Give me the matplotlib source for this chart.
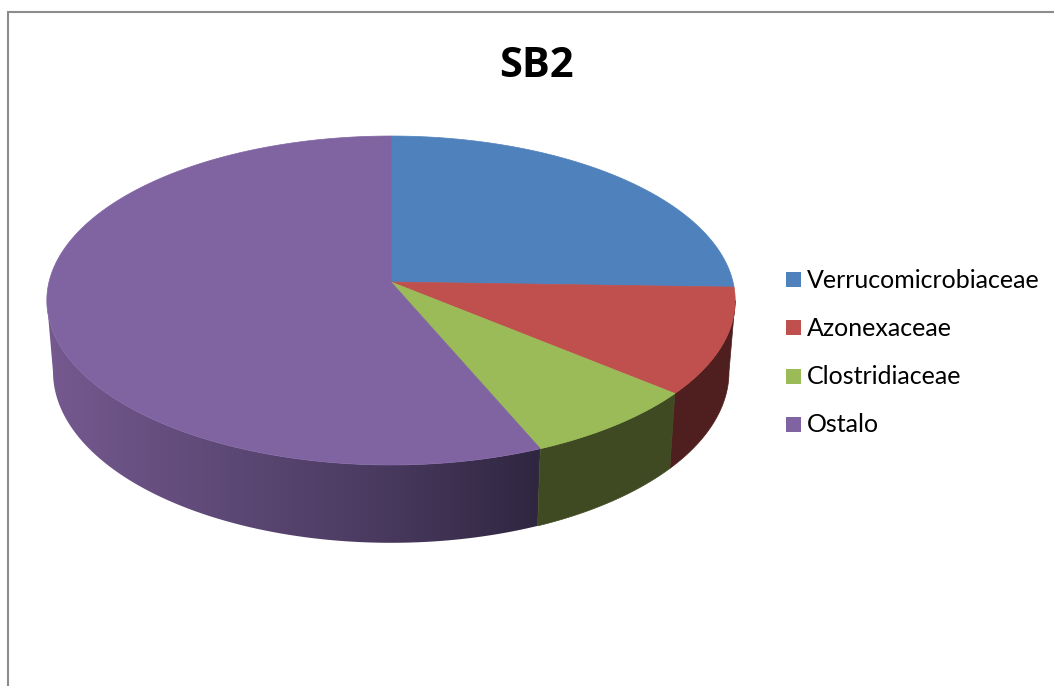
import numpy as np
import matplotlib
matplotlib.use('Agg')
import matplotlib.pyplot as plt
from matplotlib.patches import Polygon, Rectangle
from matplotlib.colors import LinearSegmentedColormap

titre = "SB2"
familles = ["Verrucomicrobiaceae", "Azonexaceae", "Clostridiaceae", "Ostalo"]
valeurs = [25.5, 10.5, 7.6, 56.4]
couleurs = ["#4f81bd", "#c0504d", "#9bbb59", "#8064a2"]
couleurs_bord = ["#27405e", "#4e1f1e", "#404a22", None]
degrade_ostalo = ["#75598f", "#5f4a78", "#4a3a60", "#2f2640"]

# pie geometry, in pixels of the picture
CX, CY = 391, 282
RX, RY = 342, 162.4
K = 0.1125


def dessus(theta):
    u, v = np.sin(theta), np.cos(theta)
    return CX + RX * u / (1 + K * v), CY - RY * v / (1 + K * v)


def dessous(theta):
    x, y = dessus(theta)
    return CX + (x - CX) * 0.982, CY + 70.5 + (y - CY) * 1.04


def arc(f, a, b):
    t = np.linspace(a, b, 200)
    x, y = f(t)
    return np.column_stack([x, y])


fig = plt.figure(figsize=(10.54, 6.86), dpi=100)
ax = fig.add_axes([0, 0, 1, 1])

bornes = np.concatenate([[0], np.cumsum(valeurs)]) / sum(valeurs) * 2 * np.pi

# only the front of the side wall shows, between the two silhouette angles
vue_min = np.arccos(-K)
vue_max = 2 * np.pi - vue_min

# side wall
for i in range(len(valeurs)):
    a, b = max(bornes[i], vue_min), min(bornes[i + 1], vue_max)
    if a >= b:
        continue
    pts = np.vstack([arc(dessus, a, b), arc(dessous, a, b)[::-1]])
    if couleurs_bord[i] is not None:
        ax.add_patch(Polygon(pts, closed=True, fc=couleurs_bord[i], ec=couleurs_bord[i], lw=0.5))
    else:
        poly = Polygon(pts, closed=True, fc='none', ec='none')
        ax.add_patch(poly)
        cmap = LinearSegmentedColormap.from_list('ostalo', degrade_ostalo)
        grad = np.linspace(0, 1, 256).reshape(1, -1)
        im = ax.imshow(grad, cmap=cmap, extent=[48, 540, 560, 280], aspect='auto')
        im.set_clip_path(poly)

# top face
for i in range(len(valeurs)):
    pts = np.vstack([[CX, CY], arc(dessus, bornes[i], bornes[i + 1])])
    ax.add_patch(Polygon(pts, closed=True, fc=couleurs[i], ec=couleurs[i], lw=0.5))

ax.text(536.5, 66.5, titre, fontsize=30, fontweight='bold', family='Open Sans',
        ha='center', va='center', color='black')

# legend
pos_y = [279.5, 327.5, 376.5, 424.5]
for nom, c, y in zip(familles, couleurs, pos_y):
    ax.add_patch(Rectangle((786, y - 7.5), 15, 15, fc=c, ec='none'))
    ax.text(807, y + 0.5, nom, fontsize=18, family='Lato', ha='left', va='center', color='black')

# outer frame, only left and top are inside the crop
ax.plot([7.5, 7.5, 1054], [686, 12, 12], color='#8c8c8c', lw=1.5, solid_joinstyle='miter')

ax.set_xlim(0, 1054)
ax.set_ylim(686, 0)
ax.axis('off')
fig.savefig('out.png', dpi=100)
